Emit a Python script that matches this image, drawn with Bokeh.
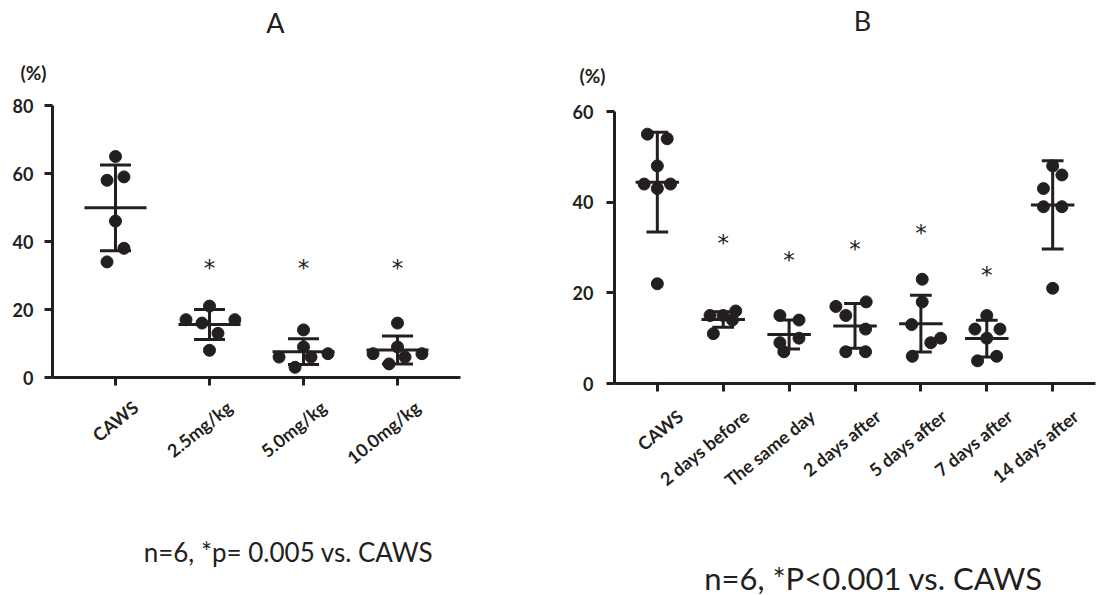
import math
from bokeh.plotting import figure
from bokeh.layouts import row, column
from bokeh.models import Range1d, FixedTicker, LinearAxis
from bokeh.embed import file_html
from bokeh.resources import INLINE
from bokeh.core.properties import value

INK = "#231f20"

# ---------------- Panel A data ----------------
cats_a = ["CAWS", "2.5mg/kg", "5.0mg/kg", "10.0mg/kg"]
vals_a = [[65, 58, 59, 46, 38, 34],
          [21, 17, 17, 16, 13, 8],
          [14, 9, 6, 6, 7, 3],
          [16, 9, 7, 7, 6, 4]]
jit_a = [[0, -0.09, 0.09, 0, 0.09, -0.09],
         [0, -0.25, 0.27, -0.08, 0.09, 0],
         [0, 0, -0.26, 0.08, 0.26, -0.09],
         [0, 0, -0.26, 0.26, 0.08, -0.09]]
mean_a = [49.9, 15.6, 7.6, 8.1]
sd_a = [12.6, 4.4, 3.8, 4.1]
star_a = [None, 34, 34, 34]
yticks_a = [0, 20, 40, 60, 80]
title_a = "A"
note_a = "n=6, *p= 0.005 vs. CAWS"

# ---------------- Panel B data ----------------
cats_b = ["CAWS", "2 days before", "The same day", "2 days after",
          "5 days after", "7 days after", "14 days after"]
vals_b = [[55, 54, 48, 44, 44, 43, 22],
          [15, 15, 16, 14, 11],
          [15, 14, 9, 10, 7],
          [17, 18, 15, 12, 7, 7],
          [23, 18, 13, 9, 10, 6],
          [15, 12, 12, 10, 5, 6],
          [48, 46, 43, 39, 39, 21]]
jit_b = [[-0.15, 0.15, 0, -0.2, 0.2, 0, 0],
         [-0.2, 0.0, 0.19, 0.14, -0.15],
         [-0.14, 0.15, -0.14, 0.15, -0.08],
         [-0.29, 0.17, -0.14, 0.16, -0.14, 0.16],
         [0.02, 0.02, -0.14, 0.15, 0.3, -0.13],
         [0, -0.18, 0.2, 0, -0.14, 0.15],
         [0, 0.14, -0.14, -0.14, 0.14, 0]]
mean_b = [44.4, 14.1, 10.8, 12.7, 13.2, 9.9, 39.4]
sd_b = [11.0, 1.7, 3.2, 4.95, 6.25, 4.05, 9.75]
star_b = [None, 32.3, 28.6, 31.1, 34.5, 25.2, None]
yticks_b = [0, 20, 40, 60]
title_b = "B"
note_b = "n=6, *P<0.001 vs. CAWS"

# ---------------- layout geometry (page pixels) ----------------
PAGE_W, PAGE_H = 1106, 595
TOP_H = 95
MAIN_H = 420
BOT_H = PAGE_H - TOP_H - MAIN_H
COL_A_W = 553
COL_B_W = PAGE_W - COL_A_W


def strip(width, height):
    s = figure(width=width, height=height, output_backend="svg", toolbar_location=None,
               x_range=Range1d(0, width), y_range=Range1d(0, height),
               x_axis_type=None, y_axis_type=None, frame_align=False,
               min_border_left=0, min_border_right=0,
               min_border_top=0, min_border_bottom=0)
    s.grid.visible = False
    s.outline_line_color = None
    return s


def txt(fig, x, y, t, size, bold=False):
    fig.text(x=x, y=y, text=t,
             text_align=value("center"), text_baseline=value("middle"),
             text_font=value("Lato"), text_font_style=value("bold" if bold else "normal"),
             text_font_size=value(size), text_color=INK)


def style_axis(ax):
    ax.axis_line_width = 3
    ax.axis_line_color = INK
    ax.major_tick_line_width = 3
    ax.major_tick_line_color = INK
    ax.major_tick_out = 8
    ax.major_tick_in = 0
    ax.minor_tick_line_color = None
    ax.minor_tick_out = 0


def main_panel(cats, vals, jit, means, sds, stars, yticks, g):
    n = len(cats)
    xr0, xr1 = g["xr"]
    p = figure(width=g["W"], height=MAIN_H, output_backend="svg", toolbar_location=None,
               x_range=Range1d(xr0, xr1), y_range=Range1d(yticks[0], yticks[-1]),
               frame_align=False,
               min_border_left=g["bl"], min_border_right=g["br"],
               min_border_top=g["bt"], min_border_bottom=MAIN_H - g["bt"] - g["fh"])
    p.grid.visible = False
    p.outline_line_color = None

    xs, ys = [], []
    for i, (vv, jj) in enumerate(zip(vals, jit)):
        for v, j in zip(vv, jj):
            xs.append(i + j)
            ys.append(v)
    p.scatter(xs, ys, size=12, color=INK, line_color=INK)

    idx = list(range(n))
    lo = [m - s for m, s in zip(means, sds)]
    hi = [m + s for m, s in zip(means, sds)]
    cw, mw = 0.165, 0.33
    p.segment(x0=idx, y0=lo, x1=idx, y1=hi, line_width=3, line_color=INK)
    p.segment(x0=[i - cw for i in idx], y0=hi, x1=[i + cw for i in idx], y1=hi, line_width=3, line_color=INK)
    p.segment(x0=[i - cw for i in idx], y0=lo, x1=[i + cw for i in idx], y1=lo, line_width=3, line_color=INK)
    p.segment(x0=[i - mw for i in idx], y0=means, x1=[i + mw for i in idx], y1=means,
              line_width=3, line_color=INK)

    sx = [i for i, s in enumerate(stars) if s is not None]
    sy = [s for s in stars if s is not None]
    p.text(x=sx, y=sy, text=["*"] * len(sx), y_offset=6,
           text_align=value("center"), text_baseline=value("middle"),
           text_font=value("DejaVu Sans"), text_font_size=value("23px"), text_color=INK)

    yax = p.yaxis[0]
    yax.ticker = FixedTicker(ticks=yticks)
    style_axis(yax)
    yax.major_label_text_font = "Lato"
    yax.major_label_text_font_style = "bold"
    yax.major_label_text_font_size = "18px"
    yax.major_label_text_color = INK
    yax.major_label_standoff = g["ystand"]

    xax = p.xaxis[0]
    xax.ticker = FixedTicker(ticks=idx)
    style_axis(xax)
    xax.major_label_overrides = {i: "" for i in idx}
    xax.major_label_standoff = 0

    # category names: a second, tick-less axis whose range is shifted so the
    # rotated names sit where the reference puts them
    fw = g["W"] - g["bl"] - g["br"]
    ppu = fw / (xr1 - xr0)
    sh = g["lab_dx"] / ppu
    p.extra_x_ranges = {"lab": Range1d(xr0 - sh, xr1 - sh)}
    lab = LinearAxis(x_range_name="lab", ticker=FixedTicker(ticks=idx),
                     major_label_overrides={i: c for i, c in enumerate(cats)})
    lab.axis_line_color = None
    lab.major_tick_line_color = None
    lab.minor_tick_line_color = None
    lab.major_tick_out = 0
    lab.major_tick_in = 0
    lab.minor_tick_out = 0
    lab.major_label_orientation = math.radians(39)
    lab.major_label_standoff = g["lab_s"]
    lab.major_label_text_font = "Lato"
    lab.major_label_text_font_style = "bold"
    lab.major_label_text_font_size = "18px"
    lab.major_label_text_color = INK
    p.add_layout(lab, "below")
    return p


geom_a = dict(W=COL_A_W, bl=52, br=93, bt=10, fh=272, xr=(-0.67, 3.67), ystand=11,
              lab_dx=20, lab_s=19)
geom_b = dict(W=COL_B_W, bl=61, br=11, bt=16, fh=272, xr=(-0.65, 6.65), ystand=13,
              lab_dx=23, lab_s=22)

top = strip(PAGE_W, TOP_H)
txt(top, [275, 862], [TOP_H - 22, TOP_H - 20], [title_a, title_b], "27px")
txt(top, [33, 592], [TOP_H - 72, TOP_H - 75], ["(%)", "(%)"], "19px", bold=True)

ma = main_panel(cats_a, vals_a, jit_a, mean_a, sd_a, star_a, yticks_a, geom_a)
mb = main_panel(cats_b, vals_b, jit_b, mean_b, sd_b, star_b, yticks_b, geom_b)

bot = strip(PAGE_W, BOT_H)
txt(bot, [288], [PAGE_H - 551], [note_a], "26px")
txt(bot, [873], [PAGE_H - 577], [note_b], "31px")

layout = column(top, row(ma, mb), bot)
open("out.html", "w").write(file_html(layout, INLINE))
